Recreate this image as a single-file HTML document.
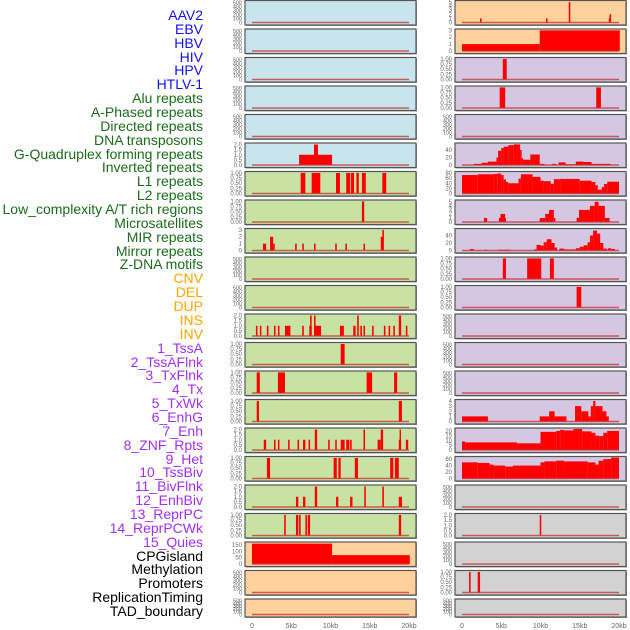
<!DOCTYPE html>
<html><head><meta charset="utf-8">
<style>
body{margin:0;background:#fff;}
#wrap{position:relative;width:630px;height:630px;overflow:hidden;font-family:"Liberation Sans",sans-serif;}
.lab{position:absolute;right:427px;font-size:14px;line-height:14px;white-space:nowrap;text-align:right;}
</style></head>
<body>
<div id="wrap">
<div id="labels"></div>
<svg id="svg" width="630" height="630" style="position:absolute;left:0;top:0"></svg>
</div>
<script>
// ---- data ----
const trackLabels = ["AAV2","EBV","HBV","HIV","HPV","HTLV-1","Alu repeats","A-Phased repeats","Directed repeats","DNA transposons","G-Quadruplex forming repeats","Inverted repeats","L1 repeats","L2 repeats","Low_complexity A/T rich regions","Microsatellites","MIR repeats","Mirror repeats","Z-DNA motifs","CNV","DEL","DUP","INS","INV","1_TssA","2_TssAFlnk","3_TxFlnk","4_Tx","5_TxWk","6_EnhG","7_Enh","8_ZNF_Rpts","9_Het","10_TssBiv","11_BivFlnk","12_EnhBiv","13_ReprPC","14_ReprPCWk","15_Quies","CPGisland","Methylation","Promoters","ReplicationTiming","TAD_boundary"];
const labelGroups = ["v","v","v","v","v","v","r","r","r","r","r","r","r","r","r","r","r","r","r","s","s","s","s","s","c","c","c","c","c","c","c","c","c","c","c","c","c","c","c","k","k","k","k","k"];
const xTickValues = [0,5,10,15,20];
const xTickLabels = ["0","5kb","10kb","15kb","20kb"];

const ticks500 = [0,100,200,300,400,500];
const ticks1 = [0,0.25,0.5,0.75,1];
const ticks2 = [0,0.5,1,1.5,2];

// segments: [startKb, endKb, value]
const L_empty = [];
const L_gquad = [[6.0,10.2,1],[7.9,8.4,2]];
const L_l1 = [[6.2,6.8,1],[7.6,8.7,1],[10.7,11.2,1],[12.0,12.5,1],[12.6,13.0,1],[13.3,13.6,1],[14.0,14.5,1],[16.6,17.1,1]];
const L_lowc = [[14.0,14.3,1]];
const L_mir = [[1.4,1.8,1],[2.3,2.7,2],[2.7,2.9,1],[5.5,5.7,1],[6.4,6.6,1],[7.9,8.1,1],[10.6,10.8,1],[11.9,12.1,1],[14.2,14.4,1],[16.4,16.7,2],[16.6,16.8,3]];
const L_ins = [[0.5,0.7,1],[1.0,1.2,1],[1.9,2.1,1],[2.8,3.0,1],[3.3,3.5,1],[4.2,4.9,1],[6.4,6.6,1],[7.3,7.6,1],[7.4,7.6,2],[7.9,8.1,2],[8.0,8.8,1],[11.2,11.7,1],[12.9,13.2,1],[13.4,13.6,2],[13.8,14.0,1],[14.2,14.4,1],[15.3,15.5,1],[16.8,17.0,1],[17.4,17.6,1],[18.0,18.2,1],[18.7,19.0,2],[19.6,19.8,1]];
const L_tssa = [[11.3,11.8,1]];
const L_txflnk = [[0.6,1.0,1],[3.3,4.2,1],[14.6,15.3,1],[18.1,18.5,1]];
const L_txwk = [[0.6,0.9,1],[18.7,19.1,1]];
const L_znf = [[1.5,1.8,1],[2.8,3.0,1],[3.3,3.5,1],[4.6,4.8,1],[5.8,6.0,1],[6.5,6.8,1],[7.2,7.4,1],[8.0,8.3,2],[9.7,9.9,1],[10.6,10.8,1],[11.3,11.8,1],[12.0,12.4,1],[12.5,12.7,1],[14.2,14.4,2],[16.0,16.4,1],[16.4,16.7,2],[18.7,19.0,1],[18.8,18.9,2],[19.6,19.9,1]];
const L_tssbiv = [[1.9,2.3,1],[10.4,10.8,1],[11.0,11.3,1],[13.1,13.5,1],[17.6,18.0,1],[18.2,18.7,1]];
const L_enhbiv = [[5.6,5.9,1],[6.5,6.8,1],[8.0,8.3,2],[10.7,11.0,1],[12.5,12.8,1],[14.3,14.5,2],[16.6,16.8,2],[18.7,19.1,1]];
const L_reprpcwk = [[4.1,4.3,1],[5.6,5.9,1],[6.0,6.2,1],[6.8,7.0,1],[7.1,7.4,1],[18.7,19.0,1]];
const L_methyl = [[0,10.2,160],[10.2,20.1,70]];

const R_aav2 = [[2.3,2.5,1],[10.7,10.9,1],[13.6,13.8,5],[18.7,18.9,1],[18.8,19.0,2]];
const R_ebv = [[0,9.9,1],[9.9,20.1,3]];
const R_hiv = [[5.2,5.7,1]];
const R_hpv = [[4.8,5.5,1],[17.1,17.7,1]];
const R_gquad = [[1.5,2.5,3],[2.5,3.3,6],[3.3,4.4,9],[4.4,4.6,20],[4.6,5.0,38],[5.0,5.3,45],[5.3,5.9,49],[5.9,6.6,53],[6.6,7.4,55],[7.4,7.6,40],[7.6,7.8,18],[7.8,8.7,14],[8.7,9.9,28],[9.9,10.5,3],[11.5,12.0,3],[12.3,13.2,7],[13.2,14.5,2],[14.5,15.5,9],[15.5,16.5,8],[16.5,18.9,3]];
const R_l1 = [[0,2,72],[2,4,75],[4,4.5,76],[4.5,5.0,78],[5.0,5.3,72],[5.3,5.6,55],[5.6,5.9,45],[5.9,7.2,40],[7.2,7.5,58],[7.5,9.0,75],[9.0,10.0,65],[10.0,10.4,50],[10.4,11.3,48],[11.3,11.7,38],[11.7,12.5,56],[12.5,15.0,57],[15.0,16.5,50],[16.5,17.0,45],[17.0,17.3,32],[17.3,17.8,15],[17.8,18.1,25],[18.1,18.5,37],[18.5,20.0,46]];
const R_l2 = [[2.8,3.2,1],[4.7,5.6,1],[4.9,5.5,2],[9.9,10.6,1],[10.6,11.2,2],[11.1,11.7,3],[11.7,11.9,1],[14.6,14.9,1],[14.9,16.3,3],[16.3,16.9,4],[16.9,17.4,5],[17.4,18.2,4],[18.2,18.8,1]];
const R_mir = [[1.0,1.5,4],[2.9,3.2,2],[4.6,6.2,2],[9.2,9.5,3],[9.5,10.0,15],[10.0,10.4,13],[10.4,10.8,22],[10.8,11.4,30],[11.4,11.8,20],[11.8,12.1,8],[12.4,13.0,5],[13.0,14.5,3],[14.5,15.0,6],[15.0,15.5,10],[15.5,16.0,14],[16.0,16.3,22],[16.3,16.7,40],[16.7,17.2,53],[17.2,17.6,45],[17.6,18.0,20],[18.0,18.5,5],[18.6,19.0,6],[19.0,19.5,4]];
const R_zdna = [[5.2,5.6,1],[8.3,10.1,1],[11.2,11.7,1]];
const R_cnv = [[14.6,15.2,1]];
const R_enhg = [[0,3.3,1],[9.9,11.1,1],[11.1,11.8,2],[11.8,13.3,1],[14.4,15.2,3],[15.2,16.1,2],[16.1,16.4,1],[16.4,16.7,3],[16.7,17.0,4],[17.0,17.9,3],[17.9,18.4,2],[18.4,18.7,1]];
const R_znf = [[0,0.4,9],[0.4,7.0,8],[7.0,10.0,7],[10.0,12.0,19],[12.0,12.5,20],[12.5,13.0,21],[13.0,14.2,20.5],[14.2,15.3,22],[15.3,16.5,19.5],[16.5,17.0,18],[17.0,17.5,15],[17.5,18.0,14.5],[18.0,18.5,18],[18.5,20.0,20]];
const R_tssbiv = [[0,2,50],[2,3.5,48],[3.5,4.0,43],[4.0,5.5,40],[5.5,6.5,37],[6.5,10.0,40],[10.0,10.5,50],[10.5,12.0,53],[12.0,13.0,55],[13.0,16.0,53],[16.0,17.0,50],[17.0,17.4,43],[17.4,18.0,55],[18.0,19.0,60],[19.0,20.0,65]];
const R_reprpc = [[9.9,10.1,2]];
const R_promo = [[0.9,1.1,1],[2.0,2.3,1]];

const BLUE="#c8e4ec",GREEN="#c8e2a4",PEACH="#ffd19d",PURPLE="#d5c6e2",GRAY="#d2d2d2";
// [name, bg, tickValues, tickLabels, ymax, segs]
const leftPanels = [
 ["aav2",BLUE,ticks500,null,520,L_empty],["ebv",BLUE,ticks500,null,520,L_empty],["hiv",BLUE,ticks500,null,520,L_empty],
 ["alu",BLUE,ticks500,null,520,L_empty],["directed",BLUE,ticks500,null,520,L_empty],
 ["gquad",BLUE,ticks2,["0.0","0.5","1.0","1.5","2.0"],2.05,L_gquad],
 ["l1",GREEN,ticks1,["0.00","0.25","0.50","0.75","1.00"],1.02,L_l1],
 ["lowcomplexity",GREEN,ticks1,["0.00","0.25","0.50","0.75","1.00"],1.02,L_lowc],
 ["mir",GREEN,[0,1,2,3],["0","1","2","3"],3.05,L_mir],
 ["zdna",GREEN,ticks500,null,520,L_empty],["del",GREEN,ticks500,null,520,L_empty],
 ["ins",GREEN,ticks2,["0.0","0.5","1.0","1.5","2.0"],2.05,L_ins],
 ["tssa",GREEN,ticks1,["0.00","0.25","0.50","0.75","1.00"],1.02,L_tssa],
 ["txflnk",GREEN,ticks1,["0.00","0.25","0.50","0.75","1.00"],1.02,L_txflnk],
 ["txwk",GREEN,ticks1,["0.00","0.25","0.50","0.75","1.00"],1.02,L_txwk],
 ["znf",GREEN,ticks2,["0.0","0.5","1.0","1.5","2.0"],2.05,L_znf],
 ["tssbiv",GREEN,ticks1,["0.00","0.25","0.50","0.75","1.00"],1.02,L_tssbiv],
 ["enhbiv",GREEN,ticks2,["0.0","0.5","1.0","1.5","2.0"],2.05,L_enhbiv],
 ["reprpcwk",GREEN,ticks1,["0.00","0.25","0.50","0.75","1.00"],1.02,L_reprpcwk],
 ["methylation",PEACH,[0,50,100,150],["0","50","100","150"],165,L_methyl],
 ["promoters",PEACH,ticks500,null,520,L_empty],["tad",PEACH,ticks500,null,520,L_empty]
];
const rightPanels = [
 ["aav2",PEACH,[0,1,2,3,4,5],["0","1","2","3","4","5"],5.1,R_aav2],
 ["ebv",PEACH,[0,1,2,3],["0","1","2","3"],3.05,R_ebv],
 ["hiv",PURPLE,ticks1,["0.00","0.25","0.50","0.75","1.00"],1.02,R_hiv],
 ["hpv",PURPLE,ticks1,["0.00","0.25","0.50","0.75","1.00"],1.02,R_hpv],
 ["directed",PURPLE,ticks500,null,520,L_empty],
 ["gquad",PURPLE,[0,20,40],["0","20","40"],56,R_gquad],
 ["l1",PURPLE,[0,20,40,60,80],["0","20","40","60","80"],82,R_l1],
 ["l2",PURPLE,[0,1,2,3,4,5],["0","1","2","3","4","5"],5.2,R_l2],
 ["mir",PURPLE,[0,20,40],["0","20","40"],56,R_mir],
 ["zdna",PURPLE,ticks1,["0.00","0.25","0.50","0.75","1.00"],1.02,R_zdna],
 ["cnv",PURPLE,ticks1,["0.00","0.25","0.50","0.75","1.00"],1.02,R_cnv],
 ["ins",PURPLE,ticks500,null,520,L_empty],["tssa",PURPLE,ticks500,null,520,L_empty],["txflnk",PURPLE,ticks500,null,520,L_empty],
 ["enhg",PURPLE,[0,1,2,3,4],["0","1","2","3","4"],4.1,R_enhg],
 ["znf",PURPLE,[0,5,10,15,20],["0","5","10","15","20"],22,R_znf],
 ["tssbiv",PURPLE,[0,20,40,60],["0","20","40","60"],65,R_tssbiv],
 ["enhbiv",GRAY,ticks500,null,520,L_empty],
 ["reprpc",GRAY,ticks2,["0.0","0.5","1.0","1.5","2.0"],2.05,R_reprpc],
 ["cpg",GRAY,ticks500,null,520,L_empty],
 ["promoters",GRAY,ticks1,["0.00","0.25","0.50","0.75","1.00"],1.02,R_promo],
 ["tad",GRAY,ticks500,null,520,L_empty]
];

// ---- drawing ----
const NS="http://www.w3.org/2000/svg";
const svg=document.getElementById('svg');
const labelsDiv=document.getElementById('labels');
const groupColor={v:"#1010f0",r:"#1a6b1a",s:"#ffa500",c:"#a030f0",k:"#000"};
trackLabels.forEach((t,i)=>{
  const d=document.createElement('div');
  d.className='lab';
  d.textContent=t;
  d.style.top=(8+i*13.86)+'px';
  d.style.color=groupColor[labelGroups[i]];
  
  
  labelsDiv.appendChild(d);
});
function el(tag,attrs,parent){const e=document.createElementNS(NS,tag);for(const k in attrs)e.setAttribute(k,attrs[k]);(parent||svg).appendChild(e);return e;}
const ROWSTEP=28.5;
function drawCol(panels,left,colName){
  const W=171;
  const xk=kb=>left+7+kb*7.85;
  panels.forEach((p,i)=>{
    const [name,bg,tv,tl,ymax,segs]=p;
    const top=0.5+i*ROWSTEP;
    const h=(i===panels.length-1)?18:24.5;
    const g=el('g',{});
    
    
    el('rect',{x:left+1,y:top+1,width:W,height:h,fill:'#999'},g);
    el('rect',{x:left,y:top,width:W,height:h,fill:bg,stroke:'#555','stroke-width':1.2},g);
    const y0=top+h-2.5, ytop=top+1;
    const ys=v=>y0-(v/ymax)*(y0-ytop);
    tv.forEach((v,j)=>{
      const t=el('text',{x:left-3,y:ys(v)+2,'font-size':(tl?6:5.5),fill:'#666','text-anchor':'end','font-family':'Liberation Sans, sans-serif'},g);
      t.textContent=tl?tl[j]:String(v);
      
      
    });
    segs.forEach(s=>{
      const r=el('rect',{x:xk(s[0]),y:ys(s[2]),width:Math.max(1.4,xk(s[1])-xk(s[0])),height:y0-ys(s[2]),fill:'#ff0000'},g);
      
      
    });
    const bl=el('line',{x1:xk(0),x2:xk(20),y1:y0,y2:y0,stroke:'#c83030','stroke-opacity':0.75,'stroke-width':1.6},g);
    
    
  });
  xTickValues.forEach((v,j)=>{
    const t=el('text',{x:xk(v),y:628,'font-size':7,fill:'#666','text-anchor':'middle','font-family':'Liberation Sans, sans-serif'});
    t.textContent=xTickLabels[j];
    
    
  });
}
drawCol(leftPanels,245,'left');
drawCol(rightPanels,455,'right');
</script>
</body></html>
